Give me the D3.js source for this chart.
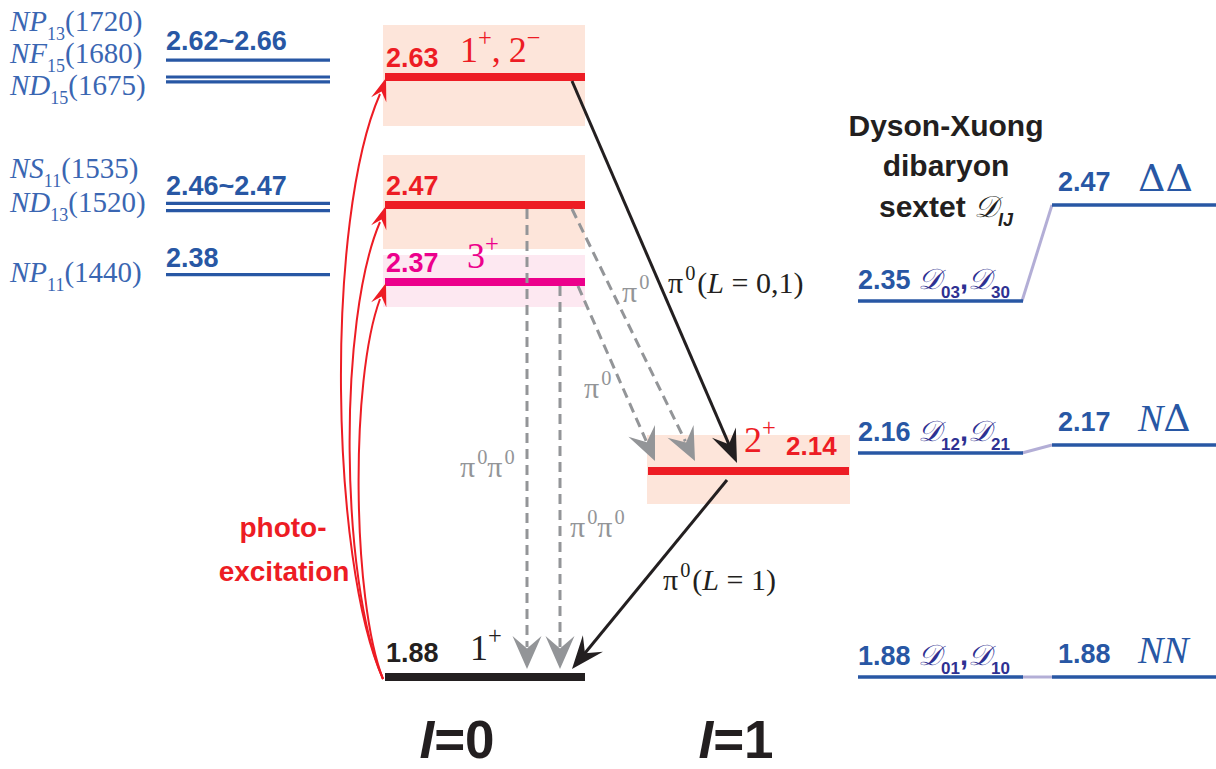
<!DOCTYPE html>
<html>
<head>
<meta charset="utf-8">
<script src="https://cdnjs.cloudflare.com/ajax/libs/d3/7.8.5/d3.min.js"></script>
<style>
  body { margin: 0; background: #fff; }
  svg { display: block; }
</style>
</head>
<body>
<svg id="chart"></svg>
<script>
// ---- data (GeV) ----
var nstarEnergies = [2.651, 2.630, 2.624, 2.472, 2.463, 2.383];
var nstarNames = [["N", "P", "13", "(1720)"], ["N", "F", "15", "(1680)"], ["N", "D", "15", "(1675)"],
                  ["N", "S", "11", "(1535)"], ["N", "D", "13", "(1520)"], ["N", "P", "11", "(1440)"]];
var nstarRanges = ["2.62~2.66", "2.46~2.47", "2.38"];

var i0Energies = [2.63, 2.47, 2.37, 1.88];
var i0Labels = ["2.63", "2.47", "2.37", "1.88"];
var i0Spins = [["1", "+", ",", "2", "\u2212"], ["", ""], ["3", "+"], ["1", "+"]];

var i1Energies = [2.14];
var i1Labels = ["2.14"];
var i1Spins = [["2", "+"]];

var dxEnergies = [2.35, 2.16, 1.88];
var dxLabels = ["2.35", "2.16", "1.88"];
var dxSubs = [["03", "30"], ["12", "21"], ["01", "10"]];
var thrEnergies = [2.47, 2.17, 1.88];
var thrLabels = ["2.47", "2.17", "1.88"];
var thrNames = ["\u0394\u0394", "N\u0394", "NN"];

// ---- setup ----
var width = 1216, height = 769;
var svg = d3.select("#chart").attr("width", width).attr("height", height);

var y = d3.scaleLinear().domain([1.88, 2.63]).range([677, 77]);

var red = "#ed1c24", magenta = "#ec008c", peach = "#fde5da", pink = "#fde8f1",
    gray = "#939598", blue = "#2857a4", navy = "#2e3192", lav = "#b3aed6", nblue = "#3a66b2";
var sans = "'Liberation Sans', Arial, Helvetica, sans-serif";
var serif = "'Liberation Serif', 'Times New Roman', serif";

// rich text helper: parts = [{t, s:'sup'|'sub', ...attrs}]
function rich(sel, x, yy, parts, size, attrs) {
	var t = sel.append("text").attr("x", x).attr("y", yy).attr("font-size", size);
	Object.keys(attrs || {}).forEach(function(k) { t.attr(k, attrs[k]) });
	var off = 0;
	parts.forEach(function(p) {
		var target = p.s === "sup" ? -size * 0.45 : p.s === "sub" ? size * 0.3 : 0;
		var ts = t.append("tspan").attr("dy", target - off).text(p.t);
		off = target;
		if (p.s) ts.attr("font-size", p.size || size * 0.68);
		if (p.italic) ts.attr("font-style", "italic");
		if (p.ff) ts.attr("font-family", p.ff);
		if (p.fw) ts.attr("font-weight", p.fw);
		if (p.fill) ts.attr("fill", p.fill);
		if (p.dx) ts.attr("dx", p.dx);
	});
	return t;
}

function arrowHead(g, tipX, tipY, fromX, fromY, len, wid, color) {
	var a = Math.atan2(tipY - fromY, tipX - fromX) * 180 / Math.PI;
	g.append("path")
		.attr("d", "M0,0 L" + (-len) + "," + (-wid / 2) + " L" + (-len * 0.62) + ",0 L" + (-len) + "," + (wid / 2) + " Z")
		.attr("fill", color)
		.attr("transform", "translate(" + tipX + "," + tipY + ") rotate(" + a + ")");
}

// ---- I=0 column ----
var i0 = svg.append("g");
var bandPad = [[52, 49], [50, 44], [30, 22], [0, 0]];
var i0Colors = [red, red, magenta, "#231f20"];
i0Energies.forEach(function(E, i) {
	if (i < 3) {
		i0.append("rect").attr("x", 383).attr("width", 202)
			.attr("y", y(E) - bandPad[i][0]).attr("height", bandPad[i][0] + bandPad[i][1])
			.attr("fill", i === 2 ? pink : peach);
	}
});
i0Energies.forEach(function(E, i) {
	var dy = i === 2 ? -3 : 0;
	i0.append("line").attr("x1", 385).attr("x2", 585).attr("y1", y(E) + dy).attr("y2", y(E) + dy)
		.attr("stroke", i0Colors[i]).attr("stroke-width", 8);
	i0.append("text").attr("x", 386).attr("y", y(E) + dy - (i === 3 ? 15 : 10))
		.attr("font-family", sans).attr("font-weight", "bold").attr("font-size", 27)
		.attr("fill", i0Colors[i]).text(i0Labels[i]);
});
// spin-parity labels
var sp = i0Spins;
rich(i0, 460, y(2.63) - 15, [{t: sp[0][0]}, {t: sp[0][1], s: "sup"}, {t: sp[0][2]}, {t: sp[0][3], dx: 8}, {t: sp[0][4], s: "sup"}], 36,
	{"font-family": serif, fill: red});
rich(i0, 467, y(2.37) - 17, [{t: sp[2][0]}, {t: sp[2][1], s: "sup"}], 36, {"font-family": serif, fill: magenta});
rich(i0, 470, y(1.88) - 17, [{t: sp[3][0]}, {t: sp[3][1], s: "sup"}], 36, {"font-family": serif, fill: "#231f20"});

// ---- I=1 column ----
var i1 = svg.append("g");
i1Energies.forEach(function(E, i) {
	i1.append("rect").attr("x", 647).attr("width", 203).attr("y", y(E) - 34).attr("height", 69).attr("fill", peach);
	i1.append("line").attr("x1", 648).attr("x2", 849).attr("y1", y(E) + 2).attr("y2", y(E) + 2)
		.attr("stroke", red).attr("stroke-width", 8);
	rich(i1, 744, y(E) - 17, [{t: i1Spins[i][0]}, {t: i1Spins[i][1], s: "sup"}], 36, {"font-family": serif, fill: red});
	i1.append("text").attr("x", 786).attr("y", y(E) - 14).attr("font-family", sans).attr("font-weight", "bold")
		.attr("font-size", 26).attr("fill", red).text(i1Labels[i]);
});

// ---- decay arrows ----
var arr = svg.append("g");
// gray dashed
var grayLines = [
	[527, y(2.47) + 4, 527, y(1.88) - 8],
	[560, y(2.37) + 1, 560, y(1.88) - 8],
	[572, y(2.47) + 4, 695, y(2.14) - 8],
	[578, y(2.37) + 1, 655, y(2.14) - 8]
];
grayLines.forEach(function(l) {
	var a = Math.atan2(l[3] - l[1], l[2] - l[0]);
	arr.append("line").attr("x1", l[0]).attr("y1", l[1])
		.attr("x2", l[2] - Math.cos(a) * 22).attr("y2", l[3] - Math.sin(a) * 22)
		.attr("stroke", gray).attr("stroke-width", 3).attr("stroke-dasharray", "10,6");
	arrowHead(arr, l[2], l[3], l[0], l[1], 33, 29, gray);
});
// black solid
var blackLines = [
	[572, y(2.63) + 4, 737, y(2.14) - 6],
	[727, y(2.14) + 11, 572, y(1.88) - 8]
];
blackLines.forEach(function(l) {
	var a = Math.atan2(l[3] - l[1], l[2] - l[0]);
	arr.append("line").attr("x1", l[0]).attr("y1", l[1])
		.attr("x2", l[2] - Math.cos(a) * 20).attr("y2", l[3] - Math.sin(a) * 20)
		.attr("stroke", "#231f20").attr("stroke-width", 3);
	arrowHead(arr, l[2], l[3], l[0], l[1], 33, 26, "#231f20");
});

// pion labels
function pi(x, yy, color, extra) {
	var parts = [{t: "\u03c0"}, {t: "0", s: "sup", dx: 2}];
	return rich(arr, x, yy, parts.concat(extra || []), 30, {"font-family": serif, fill: color});
}
pi(668, 293, "#231f20", [{t: "(", dx: 2}, {t: "L", italic: true}, {t: " = 0,1)"}]);
pi(622, 302, gray);
pi(584, 398, gray);
pi(460, 477, gray, [{t: "\u03c0"}, {t: "0", s: "sup", dx: 2}]);
pi(570, 537, gray, [{t: "\u03c0"}, {t: "0", s: "sup", dx: 2}]);
pi(663, 590, "#231f20", [{t: "(", dx: 2}, {t: "L", italic: true}, {t: " = 1)"}]);

// ---- photo-excitation curves ----
var ph = svg.append("g");
var photoTargets = [2.63, 2.47, 2.37];
var photoCtrl = [[330, 560, 325, 220], [340, 580, 338, 320], [352, 600, 350, 380]];
photoTargets.forEach(function(E, i) {
	var c = photoCtrl[i];
	var tx = 386, ty = y(E) + (i === 2 ? -2 : 1);
	var p = d3.path();
	p.moveTo(383, 679);
	p.bezierCurveTo(c[0], c[1], c[2], c[3], tx - 6, ty + 16);
	ph.append("path").attr("d", p.toString()).attr("fill", "none").attr("stroke", red).attr("stroke-width", 2);
	arrowHead(ph, tx, ty, tx - 6, ty + 18, 23, 16, red);
});
ph.append("text").attr("x", 283).attr("y", 537).attr("text-anchor", "middle")
	.attr("font-family", sans).attr("font-weight", "bold").attr("font-size", 28).attr("fill", red).text("photo-");
ph.append("text").attr("x", 284).attr("y", 581).attr("text-anchor", "middle")
	.attr("font-family", sans).attr("font-weight", "bold").attr("font-size", 28).attr("fill", red).text("excitation");

// ---- N* resonances (left) ----
var ns = svg.append("g");
nstarEnergies.forEach(function(E) {
	ns.append("line").attr("x1", 166).attr("x2", 330).attr("y1", y(E)).attr("y2", y(E))
		.attr("stroke", blue).attr("stroke-width", 3.2);
});
var nstarBase = [31, 63, 95, 178, 212, 282];
nstarNames.forEach(function(n, i) {
	rich(ns, 10, nstarBase[i], [{t: n[0] + n[1], italic: true}, {t: n[2], s: "sub", size: 18}, {t: n[3]}], 29,
		{"font-family": serif, fill: nblue});
});
var rangeBase = [50, 195, 267];
nstarRanges.forEach(function(r, i) {
	ns.append("text").attr("x", 166).attr("y", rangeBase[i]).attr("font-family", sans).attr("font-weight", "bold")
		.attr("font-size", 27).attr("fill", blue).text(r);
});

// ---- Dyson-Xuong sextet (right) ----
var dx = svg.append("g");
["Dyson-Xuong", "dibaryon"].forEach(function(s, i) {
	dx.append("text").attr("x", 946).attr("y", 136 + i * 40).attr("text-anchor", "middle")
		.attr("font-family", sans).attr("font-weight", "bold").attr("font-size", 30).attr("fill", "#231f20").text(s);
});
rich(dx, 946, 217, [{t: "sextet "}, {t: "\ud835\udc9f", ff: serif, fw: "normal", italic: true}, {t: "IJ", s: "sub", italic: true, size: 18}], 30,
	{"font-family": sans, "font-weight": "bold", fill: "#231f20", "text-anchor": "middle"});

dxEnergies.forEach(function(E, i) {
	var Et = thrEnergies[i];
	dx.append("line").attr("x1", 1022).attr("x2", 1052).attr("y1", y(E)).attr("y2", y(Et))
		.attr("stroke", lav).attr("stroke-width", 3);
	dx.append("line").attr("x1", 858).attr("x2", 1023).attr("y1", y(E)).attr("y2", y(E))
		.attr("stroke", blue).attr("stroke-width", 3.5);
	dx.append("line").attr("x1", 1052).attr("x2", 1216).attr("y1", y(Et)).attr("y2", y(Et))
		.attr("stroke", blue).attr("stroke-width", 3.5);
	dx.append("text").attr("x", 858).attr("y", y(E) - 12).attr("font-family", sans).attr("font-weight", "bold")
		.attr("font-size", 27).attr("fill", blue).text(dxLabels[i]);
	rich(dx, 918, y(E) - 12, [
		{t: "\ud835\udc9f", italic: true},
		{t: dxSubs[i][0], s: "sub", ff: sans, fw: "bold", size: 17},
		{t: ",", ff: sans, fw: "bold"},
		{t: "\ud835\udc9f", italic: true},
		{t: dxSubs[i][1], s: "sub", ff: sans, fw: "bold", size: 17}
	], 29, {"font-family": serif, fill: navy});
	dx.append("text").attr("x", 1058).attr("y", y(Et) - 14).attr("font-family", sans).attr("font-weight", "bold")
		.attr("font-size", 27).attr("fill", blue).text(thrLabels[i]);
	var nm = thrNames[i];
	var t = dx.append("text").attr("x", 1138).attr("y", y(Et) - 14)
		.attr("font-size", 38).attr("fill", blue);
	nm.split("").forEach(function(ch) {
		t.append("tspan").attr("font-family", ch === "N" ? serif : "'DejaVu Serif', serif")
			.attr("font-weight", ch === "N" ? "normal" : "200")
			.attr("font-style", ch === "N" ? "italic" : "normal").text(ch);
	});
});

// ---- isospin labels ----
[["0", 457], ["1", 736]].forEach(function(d) {
	rich(svg, d[1], 758, [{t: "I", italic: true}, {t: "=" + d[0]}], 53,
		{"font-family": sans, "font-weight": "bold", fill: "#231f20", "text-anchor": "middle"});
});
</script>
</body>
</html>
